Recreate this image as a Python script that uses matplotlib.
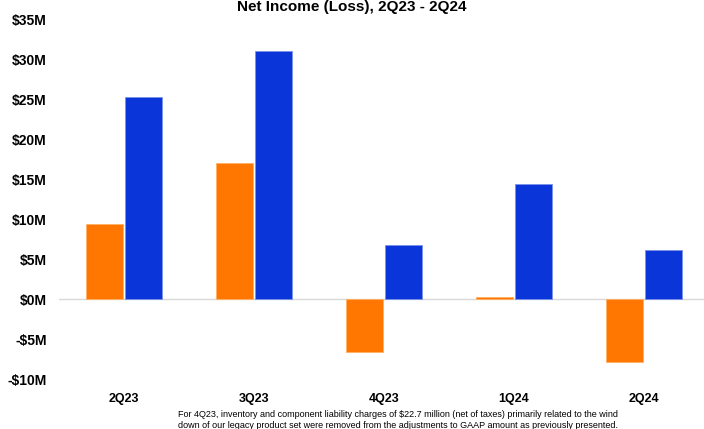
import matplotlib.pyplot as plt
import numpy as np

quarters = ['2Q23', '3Q23', '4Q23', '1Q24', '2Q24']
gaap = [9.4, 17.0, -6.6, 0.2, -7.9]
adjusted = [25.2, 31.0, 6.75, 14.4, 6.1]
yticks = [-10, -5, 0, 5, 10, 15, 20, 25, 30, 35]

plt.rcParams['font.family'] = ['Liberation Sans', 'DejaVu Sans']

fig = plt.figure(figsize=(7.04, 4.29), dpi=100)
ax = fig.add_axes([59 / 704, 50 / 429, 650 / 704, 360 / 429])

x = np.arange(len(quarters))
ax.bar(x - 0.15, gaap, width=0.28, color='#ff7700', edgecolor='#ffb060', linewidth=0.6, zorder=3)
ax.bar(x + 0.15, adjusted, width=0.28, color='#0a35d8', edgecolor='#7a90ea', linewidth=0.6, zorder=3)
ax.axhline(0, color='#d9d9d9', linewidth=1, zorder=2)

ax.set_xlim(-0.5, 4.5)
ax.set_ylim(-10, 35)
ax.set_yticks(yticks)
ax.set_yticklabels([f'-${-v}M' if v < 0 else f'${v}M' for v in yticks], fontsize=10, fontweight='bold')
ax.set_xticks(x)
ax.set_xticklabels(quarters, fontsize=9, fontweight='bold')
ax.tick_params(axis='y', length=0, pad=9)
ax.tick_params(axis='x', length=0, pad=10)
for s in ax.spines.values():
    s.set_visible(False)

fig.text(0.5, 0.999, 'Net Income (Loss), 2Q23 - 2Q24', ha='center', va='top',
         fontsize=11, fontweight='bold')
fig.text(398 / 704, 1 - 420 / 429,
         'For 4Q23, inventory and component liability charges of $22.7 million (net of taxes) primarily related to the wind\n'
         'down of our legacy product set were removed from the adjustments to GAAP amount as previously presented.',
         ha='center', va='center', fontsize=6.5, linespacing=1.2)

fig.savefig('out.png', dpi=100)
